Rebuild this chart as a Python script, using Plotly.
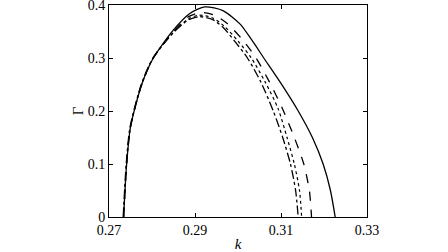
import plotly.graph_objects as go

k_solid = [0.2734, 0.2741, 0.2750, 0.2776, 0.2803, 0.2850, 0.2888, 0.2923, 0.2966, 0.3005,
           0.3032, 0.3060, 0.3100, 0.3140, 0.3173, 0.3198, 0.3215, 0.3226]
g_solid = [0.0, 0.10, 0.17, 0.25, 0.30, 0.353, 0.384, 0.3965, 0.389, 0.364,
           0.334, 0.30, 0.252, 0.20, 0.15, 0.10, 0.05, 0.0]

k_dashed = [0.2734, 0.2741, 0.2750, 0.2776, 0.2803, 0.2850, 0.2885, 0.2915, 0.2945, 0.2975,
            0.3010, 0.3042, 0.3073, 0.3103, 0.3131, 0.3153, 0.3166, 0.3171]
g_dashed = [0.0, 0.10, 0.17, 0.25, 0.30, 0.350, 0.378, 0.386, 0.381, 0.365,
            0.335, 0.30, 0.255, 0.205, 0.15, 0.10, 0.05, 0.0]

k_dotted = [0.2734, 0.2741, 0.2750, 0.2776, 0.2803, 0.2850, 0.2885, 0.2910, 0.2940, 0.2968,
            0.3000, 0.3031, 0.3063, 0.3093, 0.3114, 0.3131, 0.3143, 0.3148]
g_dotted = [0.0, 0.10, 0.17, 0.25, 0.30, 0.349, 0.374, 0.381, 0.376, 0.360,
            0.332, 0.30, 0.255, 0.205, 0.15, 0.10, 0.05, 0.0]

k_dashdot = [0.2733, 0.2740, 0.2749, 0.2775, 0.2802, 0.2850, 0.2885, 0.2910, 0.2940, 0.2965,
             0.2994, 0.3022, 0.3053, 0.3082, 0.3104, 0.3122, 0.3134, 0.3140]
g_dashdot = [0.0, 0.10, 0.17, 0.25, 0.30, 0.348, 0.372, 0.378, 0.373, 0.358,
             0.330, 0.30, 0.255, 0.20, 0.15, 0.10, 0.05, 0.0]

x_ticks = [0.27, 0.29, 0.31, 0.33]
x_tick_text = ["0.27", "0.29", "0.31", "0.33"]
y_ticks = [0, 0.1, 0.2, 0.3, 0.4]
y_tick_text = ["0", "0.1", "0.2", "0.3", "0.4"]

series = [
    (k_solid, g_solid, "solid", 1.3),
    (k_dashed, g_dashed, "dash", 1.3),
    (k_dotted, g_dotted, "dot", 1.2),
    (k_dashdot, g_dashdot, "dashdot", 1.3),
]

fig = go.Figure()
for kx, gy, dash, w in series:
    fig.add_trace(go.Scatter(x=kx, y=gy, mode="lines",
                             line=dict(color="black", width=w, dash=dash,
                                       shape="spline", smoothing=0.7),
                             showlegend=False, hoverinfo="skip"))

font_family = "Liberation Serif, Times New Roman, serif"
axis_common = dict(showline=True, linecolor="black", linewidth=1, mirror="ticks",
                   ticks="inside", ticklen=4, tickcolor="black", tickwidth=1,
                   showgrid=False, zeroline=False, automargin=False,
                   ticklabeloverflow="allow",
                   tickfont=dict(family=font_family, size=14, color="black"))

fig.update_layout(
    width=448, height=252,
    margin=dict(l=109, r=81, t=5, b=35),
    paper_bgcolor="white", plot_bgcolor="white",
    font=dict(family=font_family, size=14, color="black"),
    xaxis=dict(range=[0.27, 0.33], tickvals=x_ticks, ticktext=x_tick_text,
               title=dict(text="<i>k</i>", standoff=1,
                          font=dict(family=font_family, size=15)),
               **axis_common),
    yaxis=dict(range=[0, 0.4], tickvals=y_ticks, ticktext=y_tick_text,
               title=dict(text="Γ", standoff=0,
                          font=dict(family=font_family, size=15)),
               **axis_common),
)

fig.write_html("out.html",
               config={"displayModeBar": False, "staticPlot": True},
               post_script="document.body.style.margin='0';document.body.style.overflow='hidden';")
